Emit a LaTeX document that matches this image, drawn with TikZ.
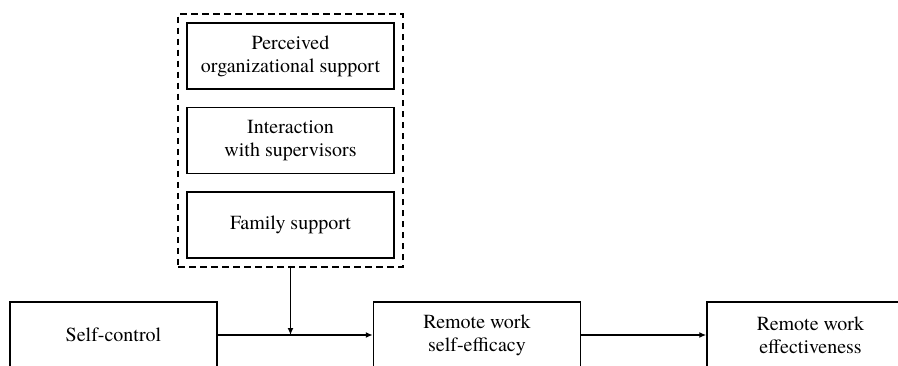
\documentclass[tikz,border=0pt]{standalone}
\usepackage{fontspec}
\setmainfont{TeX Gyre Termes}
\usetikzlibrary{arrows.meta, positioning, fit}

\begin{document}
\begin{tikzpicture}[
  x=1pt, y=1pt,
  node distance=17pt and 155pt,
  box/.style={draw, line width=1.5pt, minimum width=207pt, minimum height=66pt,
              inner sep=0pt, align=center, font=\rmfamily\fontsize{20}{23}\selectfont},
  group/.style={draw, line width=1.6pt, dash pattern=on 6.5pt off 4.5pt, inner sep=8pt},
  arr/.style={-{Latex[length=7pt, width=6pt]}, line width=1.3pt}
]
\path[use as bounding box, clip] (0,0) rectangle (898,365);

% moderators
\node[box] (support) at (290.5,309) {Perceived\\organizational support};
\node[box, below=of support] (interact) {Interaction\\with supervisors};
\node[box, below=of interact] (family) {Family support};
\node[group, fit=(support) (interact) (family)] (mods) {};

% main path
\node[box] (selfctrl) at (113.5,30) {Self-control};
\node[box, right=of selfctrl] (efficacy) {Remote work\\self-efficacy};
\node[box, right=125pt of efficacy] (effect) {Remote work\\effectiveness};

\draw[arr] (selfctrl) -- (efficacy);
\draw[arr] (efficacy) -- (effect);
\draw[arr] (mods.south) -- (mods.south |- selfctrl.east);
\end{tikzpicture}
\end{document}
